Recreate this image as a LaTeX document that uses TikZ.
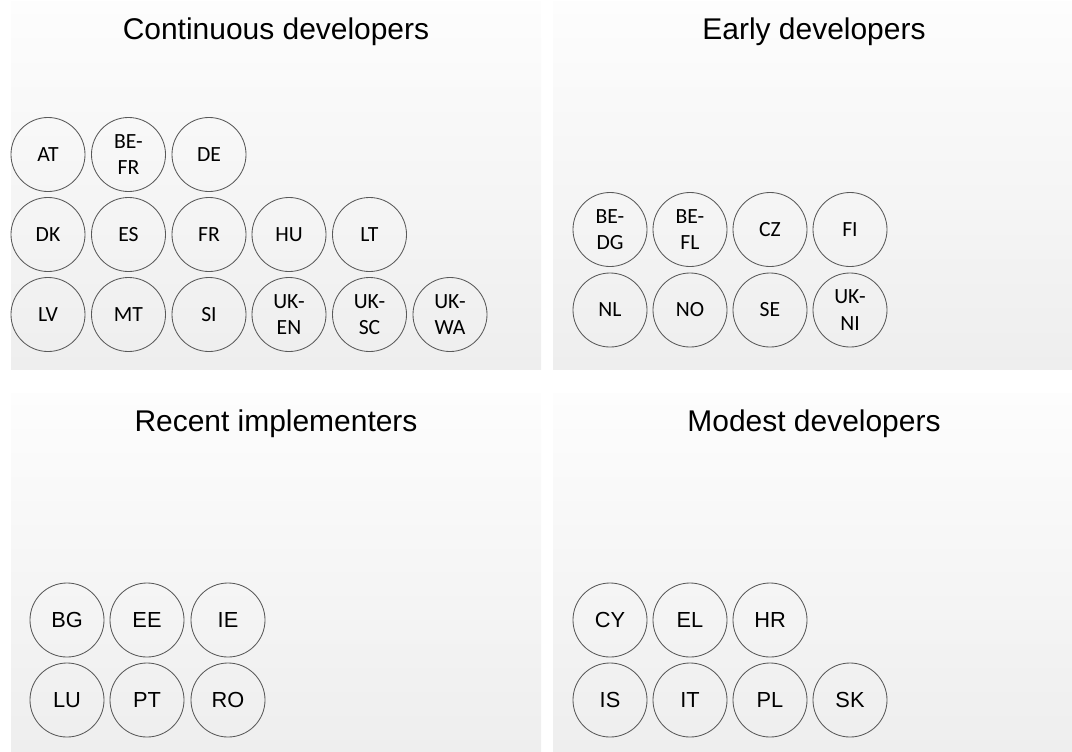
\documentclass[tikz,border=0pt]{standalone}
\usepackage{fontspec}
\setmainfont{Liberation Sans}
\newfontfamily\calibrifont{Carlito}

%Defining panel colours
\definecolor{PanelTop}{RGB}{253,253,253}
\definecolor{PanelBottom}{RGB}{238,238,238}
\colorlet{RingMark}{black!65}

\begin{document}
\begin{tikzpicture}[x=0.025cm,y=-0.025cm,
  panel/.style={top color=PanelTop,bottom color=PanelBottom},
  grouptitle/.style={anchor=base,font=\fontsize{21.3}{25}\selectfont},
  land/.style={circle,draw=RingMark,line width=0.6pt,minimum size=1.85cm,inner sep=0pt,align=center},
  landc/.style={land,font=\calibrifont\fontsize{15.4}{18.8}\selectfont},
  landa/.style={land,font=\fontsize{15.5}{18}\selectfont}]

\useasboundingbox (0,0) rectangle (1072,751);

%Draw the four panels
\shade[panel] (11,1) rectangle (541,369);
\shade[panel] (553,1) rectangle (1072,369);
\shade[panel] (11,393) rectangle (541,751);
\shade[panel] (553,393) rectangle (1072,751);

%Continuous developers
\node[grouptitle] (cont) at (276,39) {Continuous developers};

\node[landc] (AT) at (48,154.5) {AT};
\node[landc] (BEFR) at (128.5,154.5) {BE-\\FR};
\node[landc] (DE) at (209,154.5) {DE};

\node[landc] (DK) at (48,234.5) {DK};
\node[landc] (ES) at (128.5,234.5) {ES};
\node[landc] (FR) at (209,234.5) {FR};
\node[landc] (HU) at (289,234.5) {HU};
\node[landc] (LT) at (369.5,234.5) {LT};

\node[landc] (LV) at (48,314.5) {LV};
\node[landc] (MT) at (128.5,314.5) {MT};
\node[landc] (SI) at (209,314.5) {SI};
\node[landc] (UKEN) at (289,314.5) {UK-\\EN};
\node[landc] (UKSC) at (369.5,314.5) {UK-\\SC};
\node[landc] (UKWA) at (450,314.5) {UK-\\WA};

%Early developers
\node[grouptitle] (early) at (814,39) {Early developers};

\node[landc] (BEDG) at (610,229.5) {BE-\\DG};
\node[landc] (BEFL) at (690,229.5) {BE-\\FL};
\node[landc] (CZ) at (770,229.5) {CZ};
\node[landc] (FI) at (850,229.5) {FI};

\node[landc] (NL) at (610,310) {NL};
\node[landc] (NO) at (690,310) {NO};
\node[landc] (SE) at (770,310) {SE};
\node[landc] (UKNI) at (850,310) {UK-\\NI};

%Recent implementers
\node[grouptitle] (recent) at (276,431) {Recent implementers};

\node[landa] (BG) at (67,620) {BG};
\node[landa] (EE) at (147,620) {EE};
\node[landa] (IE) at (228,620) {IE};

\node[landa] (LU) at (67,700) {LU};
\node[landa] (PT) at (147,700) {PT};
\node[landa] (RO) at (228,700) {RO};

%Modest developers
\node[grouptitle] (modest) at (814,431) {Modest developers};

\node[landa] (CY) at (610,620) {CY};
\node[landa] (EL) at (690,620) {EL};
\node[landa] (HR) at (770,620) {HR};

\node[landa] (IS) at (610,700) {IS};
\node[landa] (IT) at (690,700) {IT};
\node[landa] (PL) at (770,700) {PL};
\node[landa] (SK) at (850,700) {SK};

\end{tikzpicture}
\end{document}
